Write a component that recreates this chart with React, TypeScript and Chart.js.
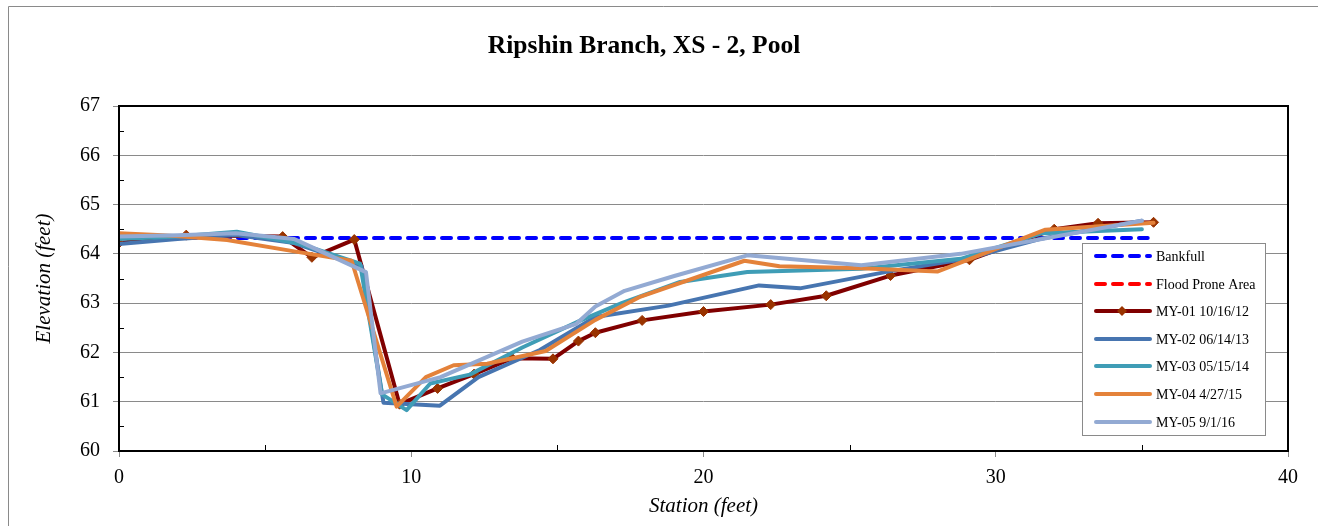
import React, { useEffect, useRef } from 'react';
import { Chart, registerables } from 'chart.js';

Chart.register(...registerables);

const chartTitle = 'Ripshin Branch, XS - 2, Pool';
const xAxisTitle = 'Station (feet)';
const yAxisTitle = 'Elevation (feet)';
const xTickValues = [0, 10, 20, 30, 40];
const yTickValues = [60, 61, 62, 63, 64, 65, 66, 67];
const xMinorTicks = [5, 15, 25, 35];
const yMinorTicks = [60.5, 61.5, 62.5, 63.5, 64.5, 65.5, 66.5];

const seriesLabels = [
  'Bankfull',
  'Flood Prone Area',
  'MY-01 10/16/12',
  'MY-02 06/14/13',
  'MY-03 05/15/14',
  'MY-04 4/27/15',
  'MY-05 9/1/16',
];

const bankfullStation = [0, 35.2];
const bankfullElev = [64.32, 64.32];

const floodStation: number[] = [];
const floodElev: number[] = [];

const my01Station = [0, 2.3, 5.6, 6.6, 8.05, 9.6, 10.9, 12.15, 13.45, 14.85, 15.72, 16.3, 17.9, 20.0, 22.3, 24.2, 26.4, 29.1, 32.0, 33.5, 35.4];
const my01Elev = [64.22, 64.38, 64.35, 63.93, 64.29, 60.95, 61.27, 61.56, 61.88, 61.87, 62.23, 62.4, 62.65, 62.83, 62.97, 63.15, 63.56, 63.88, 64.5, 64.62, 64.64];

const my02Station = [0, 2, 4, 6, 8.3, 9.05, 10.98, 12.3, 14.4, 16.3, 18.8, 21.9, 23.3, 26.4, 29.0, 31.5, 35.0];
const my02Elev = [64.2, 64.3, 64.38, 64.22, 63.75, 60.98, 60.92, 61.5, 62.05, 62.72, 62.95, 63.36, 63.3, 63.65, 63.9, 64.3, 64.67];

const my03Station = [0, 2, 4.03, 6.2, 8.25, 9.0, 9.84, 10.65, 12.0, 13.8, 15.8, 17.2, 19.2, 21.5, 25.4, 28.8, 31.6, 35.0];
const my03Elev = [64.3, 64.35, 64.45, 64.2, 63.8, 61.15, 60.83, 61.37, 61.55, 62.1, 62.65, 63.0, 63.43, 63.63, 63.7, 63.9, 64.42, 64.5];

const my04Station = [0, 1.5, 3.7, 6.0, 7.96, 9.5, 10.5, 11.45, 12.6, 14.6, 16.3, 17.8, 21.4, 22.6, 25.4, 28.0, 31.7, 35.4];
const my04Elev = [64.42, 64.38, 64.28, 64.05, 63.86, 60.9, 61.5, 61.74, 61.77, 62.03, 62.66, 63.12, 63.86, 63.75, 63.71, 63.64, 64.49, 64.63];

const my05Station = [0, 2, 4.0, 6.0, 8.45, 8.95, 11.0, 13.8, 15.65, 16.3, 17.3, 19.0, 21.5, 25.4, 28.8, 35.0];
const my05Elev = [64.35, 64.38, 64.42, 64.3, 63.63, 61.17, 61.5, 62.22, 62.58, 62.93, 63.25, 63.55, 63.97, 63.77, 64.0, 64.67];

const FONT = "'Liberation Serif', 'Times New Roman', serif";

const toPoints = (xs: number[], ys: number[]) => xs.map((x, i) => ({ x, y: ys[i] }));

export default function App() {
  const canvasRef = useRef<HTMLCanvasElement | null>(null);

  useEffect(() => {
    const canvas = canvasRef.current;
    if (!canvas) return;

    const lineDs = (label: string, xs: number[], ys: number[], color: string, order: number, extra: any = {}) => ({
      label,
      data: toPoints(xs, ys),
      borderColor: color,
      backgroundColor: color,
      borderWidth: 4,
      showLine: true,
      tension: 0,
      pointRadius: 0,
      pointHoverRadius: 0,
      borderCapStyle: 'round',
      borderJoinStyle: 'round',
      order,
      ...extra,
    });

    const datasets: any[] = [
      lineDs(seriesLabels[0], bankfullStation, bankfullElev, '#0000FF', 10, { borderDash: [9, 8] }),
      lineDs(seriesLabels[1], floodStation, floodElev, '#FF0000', 9, { borderDash: [9, 8] }),
      lineDs(seriesLabels[2], my01Station, my01Elev, '#800000', 5, {
        pointRadius: 5,
        pointStyle: 'rectRot',
        pointBackgroundColor: '#993300',
        pointBorderColor: '#993300',
        pointBorderWidth: 1,
      }),
      lineDs(seriesLabels[3], my02Station, my02Elev, '#4775B0', 4),
      lineDs(seriesLabels[4], my03Station, my03Elev, '#3F9DB6', 3),
      lineDs(seriesLabels[5], my04Station, my04Elev, '#E4823A', 2),
      lineDs(seriesLabels[6], my05Station, my05Elev, '#93AAD3', 1),
    ];

    const decor = {
      id: 'decor',
      beforeDraw(chart: any) {
        const ctx = chart.ctx;
        ctx.save();
        ctx.fillStyle = '#FFFFFF';
        ctx.fillRect(0, 0, chart.width, chart.height);
        ctx.strokeStyle = '#8A8A8A';
        ctx.lineWidth = 1;
        ctx.beginPath();
        ctx.moveTo(8.5, chart.height);
        ctx.lineTo(8.5, 6.5);
        ctx.lineTo(chart.width, 6.5);
        ctx.stroke();
        ctx.restore();
      },
      afterDatasetsDraw(chart: any) {
        const ctx = chart.ctx;
        const a = chart.chartArea;
        const xs = chart.scales.x;
        const ys = chart.scales.y;
        ctx.save();
        ctx.strokeStyle = '#000000';
        ctx.lineWidth = 1;
        ctx.beginPath();
        yMinorTicks.forEach((v) => {
          const py = Math.round(ys.getPixelForValue(v)) + 0.5;
          ctx.moveTo(a.left, py);
          ctx.lineTo(a.left + 5, py);
        });
        xMinorTicks.forEach((v) => {
          const px = Math.round(xs.getPixelForValue(v)) + 0.5;
          ctx.moveTo(px, a.bottom);
          ctx.lineTo(px, a.bottom - 6);
        });
        ctx.stroke();
        ctx.lineWidth = 2;
        ctx.strokeRect(a.left, a.top, a.right - a.left, a.bottom - a.top);
        ctx.restore();
      },
      afterDraw(chart: any) {
        const ctx = chart.ctx;
        ctx.save();
        // title
        ctx.fillStyle = '#000000';
        ctx.font = `bold 25.5px ${FONT}`;
        ctx.textAlign = 'center';
        ctx.textBaseline = 'middle';
        ctx.fillText(chartTitle, 644, 46);

        // legend
        const bx = 1082, by = 243, bw = 183, bh = 192;
        ctx.fillStyle = '#FFFFFF';
        ctx.fillRect(bx, by, bw, bh);
        ctx.strokeStyle = '#8A8A8A';
        ctx.lineWidth = 1;
        ctx.strokeRect(bx + 0.5, by + 0.5, bw, bh);
        const rowY0 = 256;
        const rowStep = 27.6;
        chart.data.datasets.forEach((ds: any, i: number) => {
          const y = Math.round(rowY0 + i * rowStep);
          ctx.save();
          ctx.strokeStyle = ds.borderColor;
          ctx.lineWidth = ds.borderWidth;
          ctx.lineCap = 'round';
          ctx.setLineDash(ds.borderDash || []);
          ctx.beginPath();
          ctx.moveTo(1096, y);
          ctx.lineTo(1150, y);
          ctx.stroke();
          ctx.restore();
          if (ds.pointStyle === 'rectRot') {
            ctx.save();
            ctx.fillStyle = ds.pointBackgroundColor;
            ctx.beginPath();
            const cx = 1122, r = 5;
            ctx.moveTo(cx, y - r);
            ctx.lineTo(cx + r, y);
            ctx.lineTo(cx, y + r);
            ctx.lineTo(cx - r, y);
            ctx.closePath();
            ctx.fill();
            ctx.restore();
          }
          ctx.fillStyle = '#000000';
          ctx.font = `14px ${FONT}`;
          ctx.textAlign = 'left';
          ctx.textBaseline = 'middle';
          ctx.fillText(ds.label, 1156, y + 1);
        });
        ctx.restore();
      },
    };

    const chart = new Chart(canvas, {
      type: 'scatter',
      data: { datasets },
      options: {
        animation: false,
        responsive: false,
        maintainAspectRatio: false,
        devicePixelRatio: 1,
        layout: { padding: { top: 106, right: 30, left: 0, bottom: 0 } },
        plugins: {
          legend: { display: false },
          title: { display: false },
          tooltip: { enabled: false },
        },
        scales: {
          x: {
            type: 'linear',
            min: 0,
            max: 40,
            afterFit: (s: any) => { s.height = 75; },
            afterBuildTicks: (s: any) => { s.ticks = xTickValues.map((v) => ({ value: v })); },
            ticks: {
              color: '#000000',
              font: { family: FONT, size: 20 },
              padding: 9,
              maxRotation: 0,
            },
            grid: {
              drawOnChartArea: false,
              drawTicks: true,
              tickLength: 6,
              color: '#8A8A8A',
            },
            border: { display: false },
            title: {
              display: true,
              text: xAxisTitle,
              color: '#000000',
              font: { family: FONT, size: 21, style: 'italic' },
              padding: { top: 0, bottom: 7 },
            },
          },
          y: {
            type: 'linear',
            min: 60,
            max: 67,
            afterFit: (s: any) => { s.width = 119; },
            afterBuildTicks: (s: any) => { s.ticks = yTickValues.map((v) => ({ value: v })); },
            ticks: {
              color: '#000000',
              font: { family: FONT, size: 20 },
              padding: 13,
            },
            grid: {
              drawOnChartArea: true,
              drawTicks: true,
              tickLength: 6,
              color: '#8A8A8A',
              lineWidth: 1,
            },
            border: { display: false },
            title: {
              display: true,
              text: yAxisTitle,
              color: '#000000',
              font: { family: FONT, size: 21, style: 'italic' },
              padding: { top: 32, bottom: 0 },
            },
          },
        },
      },
      plugins: [decor],
    } as any);

    return () => chart.destroy();
  }, []);

  return (
    <div style={{ position: 'fixed', left: 0, top: 0, width: 1318, height: 526, overflow: 'hidden', background: '#fff' }}>
      <canvas ref={canvasRef} width={1318} height={526} style={{ display: 'block', width: 1318, height: 526 }} />
    </div>
  );
}
